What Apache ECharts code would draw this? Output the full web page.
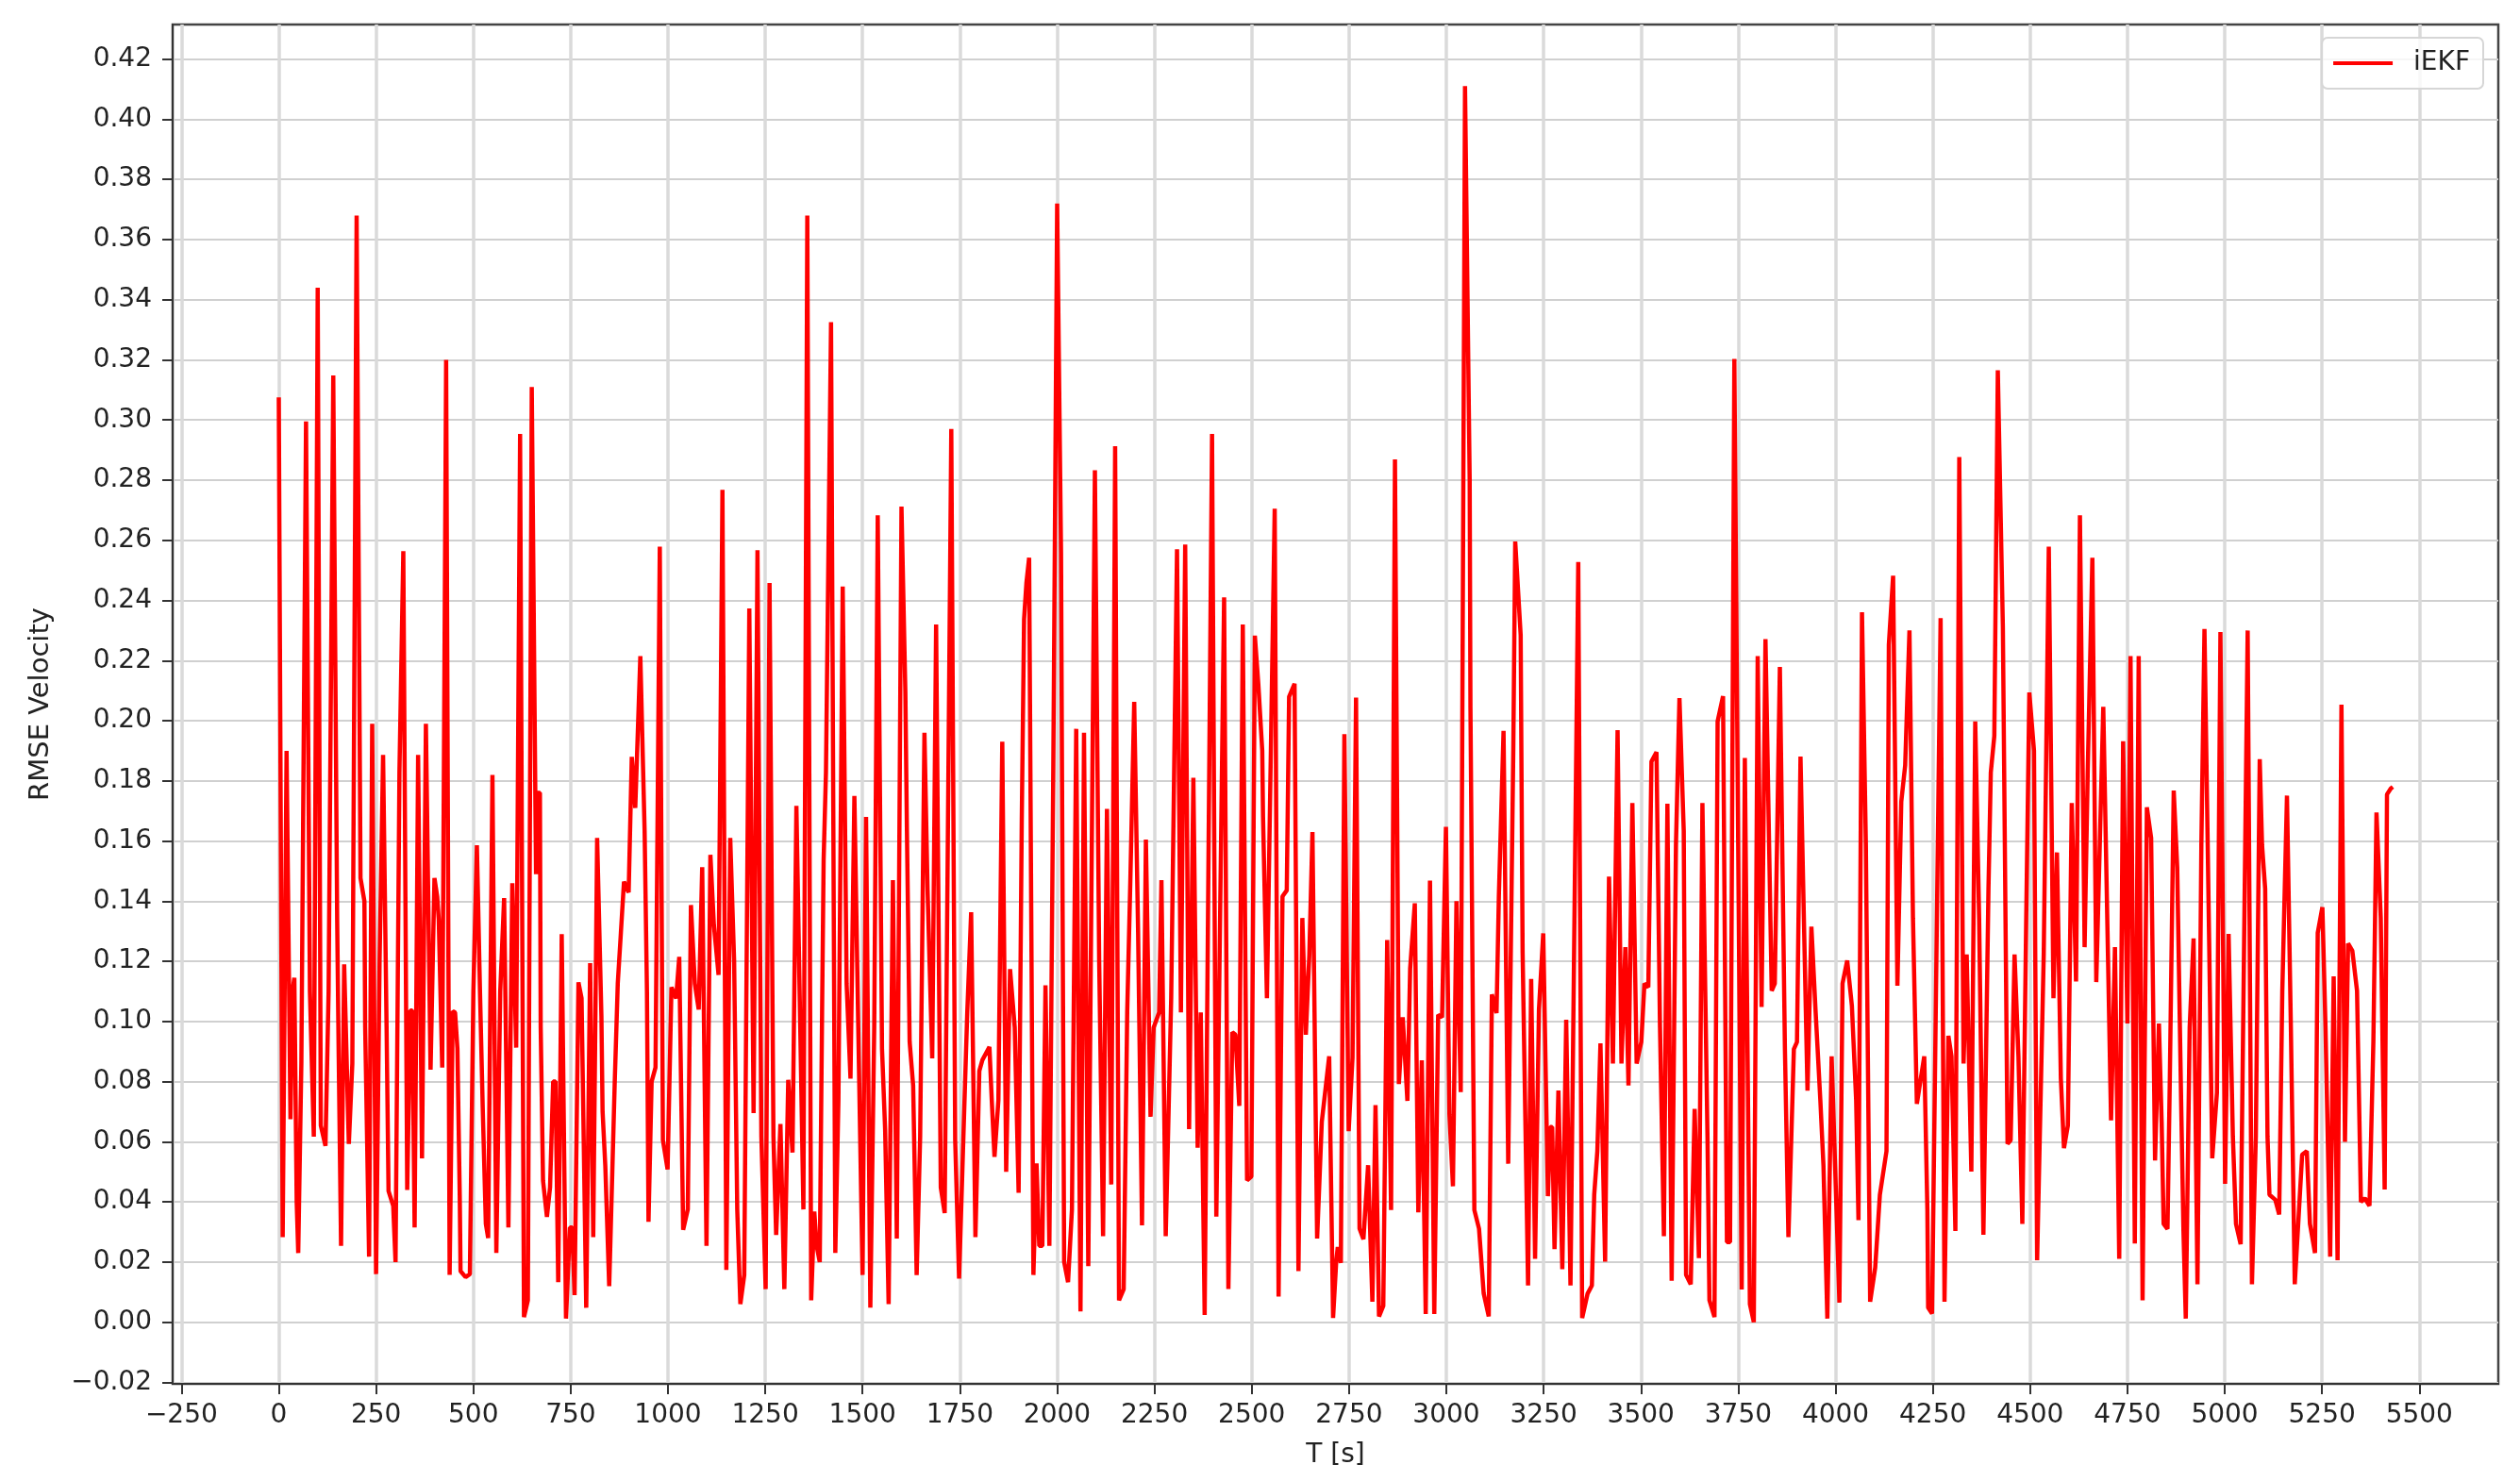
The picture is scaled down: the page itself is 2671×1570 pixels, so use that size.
<!DOCTYPE html>
<html><head><meta charset="utf-8">
<style>html,body{margin:0;padding:0;background:#fff}#c{width:2671px;height:1570px}</style>
<script src="https://cdn.jsdelivr.net/npm/echarts@6/dist/echarts.min.js"></script>
</head><body><div id="c"></div>
<script>
const seriesName = 'iEKF';
const xTicks = [-250,0,250,500,750,1000,1250,1500,1750,2000,2250,2500,2750,3000,3250,3500,3750,4000,4250,4500,4750,5000,5250,5500];
const yTicks = [-0.02,0,0.02,0.04,0.06,0.08,0.10,0.12,0.14,0.16,0.18,0.20,0.22,0.24,0.26,0.28,0.30,0.32,0.34,0.36,0.38,0.40,0.42];

const tA = [0,10,20,30,35,40,46,50,58,70,80,90,100,108,120,128,140,150,154,160,168,180,189,200,210,220,222,232,240,250,259,268,277,282,294,300,310,320,330,338,343,349,358,368,378,390,400,407,411,420,430,439,447,453,459,465,467,480,491,500,509,517,524,532,538,549,559,569,579,590,600,610,620,630,640,650,661,665,671];
const vA = [.3075,.0283,.190,.0675,.11,.1145,.04,.023,.086,.2995,.11,.0617,.344,.0654,.0586,.11,.3148,.134,.088,.0254,.119,.0593,.086,.368,.1477,.14,.098,.0218,.199,.016,.12,.1886,.098,.0436,.0387,.02,.183,.2564,.044,.1036,.1036,.0315,.1886,.0545,.199,.084,.1477,.1416,.134,.0847,.32,.0157,.1034,.103,.091,.042,.017,.015,.016,.11,.1586,.11,.0714,.0327,.028,.182,.023,.11,.141,.0315,.146,.0913,.2954,.0017,.0073,.311,.149,.176,.176];

const tB = [673,679,689,697,705,711,718,727,738,748,754,760,770,778,790,800,808,818,829,832,839,849,863,871,879,887,899,907,916,929,940,946,950,958,968,979,987,999,1009,1021,1029,1039,1051,1059,1069,1079,1088,1099,1109,1118,1130,1140,1150,1160,1170,1178,1186,1196,1209,1220,1230,1240,1251,1261,1271,1278,1289,1299,1309,1320,1330,1348];
const vB = [.098,.047,.035,.0448,.08,.08,.0133,.129,.0012,.0315,.0315,.009,.113,.1077,.0048,.1194,.0283,.161,.1017,.07,.052,.012,.0787,.1126,.1295,.1465,.1429,.188,.171,.2215,.1634,.11,.0334,.08,.0847,.2579,.0605,.0508,.1114,.1077,.1215,.0307,.0375,.1387,.1126,.104,.1513,.0254,.1554,.132,.1155,.2768,.0174,.161,.12,.0375,.006,.0157,.2373,.0695,.2567,.0617,.011,.2458,.0617,.029,.0659,.011,.0806,.0564,.1717,.0375];

const tC = [1358,1368,1376,1382,1390,1396,1400,1406,1419,1430,1438,1449,1459,1469,1479,1489,1500,1509,1520,1530,1539,1550,1558,1567,1578,1588,1600,1610,1614,1621,1630,1639,1648,1659,1667,1679,1689,1701,1711,1728,1738,1748,1758,1769,1779,1790,1800,1808,1826,1832,1839,1849,1859,1869,1879,1891,1901,1909,1915,1921,1928,1939,1947,1954,1962,1970,1980,1990,2000,2010,2018];
const vC = [.368,.0073,.0368,.0254,.02,.103,.1538,.183,.3325,.023,.074,.2446,.1126,.081,.175,.098,.0157,.168,.0048,.098,.2683,.0908,.064,.006,.147,.0278,.2712,.2094,.1634,.0932,.0787,.0157,.0617,.196,.144,.0877,.232,.0448,.0363,.297,.0605,.0145,.057,.103,.1363,.0283,.0835,.0872,.0915,.0738,.055,.0738,.193,.05,.1174,.098,.043,.166,.2337,.2458,.2542,.0157,.0528,.0254,.0254,.112,.0254,.183,.372,.2555,.02];

const tD = [2028,2038,2049,2060,2069,2080,2097,2108,2118,2128,2139,2149,2159,2171,2180,2188,2198,2208,2218,2228,2240,2248,2262,2268,2279,2293,2308,2318,2329,2339,2350,2361,2369,2379,2398,2409,2429,2440,2450,2458,2468,2477,2488,2499,2508,2517,2527,2529,2539,2559,2569,2579,2590,2596,2610,2620,2630,2639,2648,2656,2668,2680,2699];
const vD = [.0133,.0375,.1973,.0036,.196,.0186,.2833,.12,.0286,.1707,.0458,.2913,.0073,.011,.103,.1465,.2063,.1295,.0322,.1605,.0683,.098,.103,.147,.0286,.1077,.257,.103,.2586,.0642,.181,.058,.103,.0024,.2954,.0351,.241,.011,.0964,.0956,.0719,.232,.0472,.0484,.2283,.212,.19,.168,.1077,.2705,.0085,.1416,.1436,.208,.2123,.017,.1344,.0956,.1223,.163,.0278,.0666,.0884];

const tE = [2709,2717,2721,2729,2738,2749,2759,2768,2777,2787,2799,2810,2818,2827,2838,2848,2858,2868,2878,2888,2900,2907,2919,2928,2937,2947,2958,2969,2979,2989,2999,3008,3017,3026,3037,3048,3060,3062,3072,3084,3096,3109,3117,3129,3135,3147,3159,3172,3177,3191,3196,3210,3218,3228,3238,3249,3261,3267,3272,3278,3288,3298,3308,3319,3339,3349,3363,3374];
const vE = [.0014,.02,.025,.0197,.1955,.0635,.088,.2077,.0311,.0276,.0522,.0068,.0722,.0019,.0054,.1271,.0373,.2869,.0792,.1014,.0736,.1176,.1393,.0365,.0871,.0027,.1468,.0027,.1022,.1014,.1647,.069,.0452,.14,.0765,.411,.28,.2042,.0373,.0311,.0095,.0019,.109,.1028,.142,.1966,.0527,.19,.2596,.2285,.123,.0122,.1141,.0211,.104,.1293,.0419,.0649,.0649,.0243,.077,.0176,.1006,.0122,.2528,.0014,.0095,.0122];

const tF = [3380,3388,3396,3408,3418,3428,3440,3450,3460,3468,3478,3489,3501,3509,3519,3527,3540,3549,3559,3568,3579,3590,3599,3610,3616,3628,3638,3649,3658,3671,3676,3689,3697,3711,3721,3729,3740,3759,3767,3780,3790,3800,3810,3820,3836,3844,3857,3870,3879,3893,3901,3910,3928,3938,3949,3961,3969,3979,3990,4010,4018,4030,4042,4053,4059,4068];
const vF = [.0424,.0569,.0927,.0201,.1482,.086,.1969,.086,.1247,.0787,.1726,.086,.0932,.1126,.1114,.1864,.1896,.0981,.0286,.1724,.0138,.1586,.2075,.1634,.0157,.0126,.0709,.0213,.1726,.0617,.0073,.0017,.1998,.2082,.0266,.0266,.3203,.0109,.1876,.006,.0,.2215,.1048,.2271,.1102,.1126,.2179,.0908,.0283,.0908,.0932,.1881,.077,.1315,.1029,.0738,.0521,.0012,.0884,.0065,.1126,.1203,.1053,.0738,.0339,.2361];

const tG = [4078,4089,4102,4114,4131,4137,4148,4159,4169,4179,4190,4199,4209,4228,4236,4238,4248,4270,4280,4290,4298,4308,4318,4329,4337,4349,4359,4369,4380,4393,4399,4408,4417,4430,4442,4450,4460,4470,4480,4490,4498,4510,4518,4535,4548,4560,4569,4579,4587,4597,4607,4618,4628,4640,4648,4660,4670,4688,4700,4708,4718,4729,4739];
const vG = [.1586,.0068,.0182,.0424,.0569,.2252,.2482,.1119,.1731,.1852,.23,.1344,.0726,.0884,.0375,.0048,.0029,.2341,.0068,.0952,.0884,.0303,.2877,.086,.1223,.0501,.1998,.1344,.0291,.1441,.1828,.1949,.3165,.2312,.0593,.0605,.1223,.0884,.0327,.1344,.2094,.19,.0206,.1223,.2579,.1077,.1562,.0811,.0579,.0654,.1726,.1133,.2683,.1247,.1828,.2542,.1131,.2046,.1223,.0671,.1247,.0211,.1932];

const tH = [4750,4758,4769,4779,4789,4800,4811,4821,4831,4838,4843,4853,4859,4869,4878,4888,4894,4900,4910,4920,4930,4940,4948,4960,4968,4980,4989,5001,5010,5021,5029,5041,5059,5070,5080,5090,5096,5104,5110,5115,5130,5140,5148,5160,5170,5180,5191,5199,5211,5219,5232,5239,5251,5259,5271,5280,5290,5300,5309,5317,5328,5340,5350,5360,5372,5382,5390,5401,5411,5417,5427,5432];
const vH = [.0993,.2215,.0262,.2215,.0073,.1712,.161,.0538,.0993,.0666,.0327,.031,.0811,.1768,.1513,.0738,.0303,.0012,.0981,.1276,.0126,.1586,.2305,.1271,.0545,.0763,.2295,.046,.1291,.0617,.0327,.0259,.23,.0126,.0617,.1872,.1586,.1441,.0617,.0424,.0407,.0358,.1102,.1751,.0981,.0126,.0375,.0557,.0569,.0327,.023,.1295,.138,.0981,.0218,.115,.0206,.2053,.06,.1259,.1235,.1102,.04,.0412,.0387,.0932,.1695,.1344,.0441,.1755,.1775,.178];

const T = [...tA,...tB,...tC,...tD,...tE,...tF,...tG,...tH];
const V = [...vA,...vB,...vC,...vD,...vE,...vF,...vG,...vH];
const points = T.map((t,i)=>[t,V[i]]);

const font = 'DejaVu Sans';
const chart = echarts.init(document.getElementById('c'),null,{renderer:'canvas'});
chart.setOption({
  animation:false,
  backgroundColor:'#fff',
  grid:{left:183,right:23,top:26,bottom:103,show:true,borderColor:'#444',borderWidth:2.5,backgroundColor:'transparent'},
  legend:{
    show:true,top:40,right:39,data:[seriesName],icon:'rect',itemWidth:63,itemHeight:4,itemGap:0,
    padding:[13,14,13,12],borderColor:'#d6d6d6',borderWidth:2,borderRadius:6,backgroundColor:'rgba(255,255,255,0.8)',
    textStyle:{fontFamily:font,fontSize:28,color:'#222',padding:[0,0,0,17]}
  },
  xAxis:{
    type:'value',min:-272.7,max:5703,
    name:'T [s]',nameLocation:'middle',nameGap:62,
    nameTextStyle:{fontFamily:font,fontSize:28,color:'#222'},
    axisLine:{show:true,onZero:false,lineStyle:{color:'#333',width:2}},
    axisTick:{show:true,length:11,customValues:xTicks,lineStyle:{color:'#333',width:2}},
    axisLabel:{customValues:xTicks,margin:20,fontFamily:font,fontSize:28,color:'#222',
      hideOverlap:false,showMinLabel:true,showMaxLabel:true,
      formatter:v=>String(v).replace('-','\u2212')},
    splitLine:{show:true,lineStyle:{color:'#dadada',width:3.5}},
    minorTick:{show:false}
  },
  yAxis:{
    type:'value',min:-0.0205,max:0.4315,
    name:'RMSE Velocity',nameLocation:'middle',nameGap:125,nameRotate:90,
    nameTextStyle:{fontFamily:font,fontSize:29,color:'#222'},
    axisLine:{show:true,onZero:false,lineStyle:{color:'#333',width:2}},
    axisTick:{show:true,length:11,customValues:yTicks,lineStyle:{color:'#333',width:2}},
    axisLabel:{customValues:yTicks,margin:22,fontFamily:font,fontSize:28,color:'#222',
      formatter:v=>v.toFixed(2).replace('-','\u2212')},
    splitLine:{show:true,lineStyle:{color:'#d0d0d0',width:2}}
  },
  series:[{
    name:seriesName,type:'line',data:points,showSymbol:false,symbol:'none',smooth:false,
    lineStyle:{color:'#ff0000',width:4.5,join:'bevel'},itemStyle:{color:'#ff0000'}
  }]
});
</script></body></html>
